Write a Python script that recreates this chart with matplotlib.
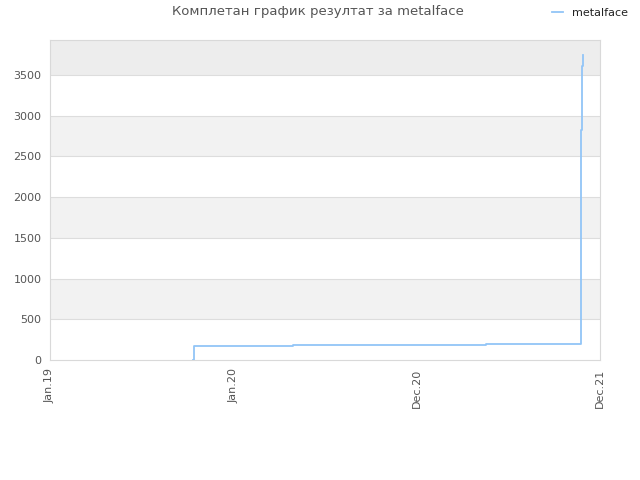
import matplotlib
matplotlib.use('Agg')
import matplotlib.pyplot as plt
import datetime as dt

# data (cumulative score over time)
dates = ['2019-10-24', '2019-10-25', '2019-10-26', '2020-04-30', '2021-05-01',
         '2021-10-27', '2021-10-28', '2021-10-29', '2021-10-30', '2021-10-31', '2021-11-01']
scores = [0, 100, 176, 188, 199, 199, 2829, 2829, 3607, 3607, 3750]

tick_labels = ['Jan.19', 'Jan.20', 'Dec.20', 'Dec.21']
start = dt.datetime(2019, 1, 25)
step_days = 348

x = [dt.datetime.strptime(d, '%Y-%m-%d') for d in dates]

fig = plt.figure(figsize=(6.4, 4.8), dpi=100)
ax = fig.add_axes([50 / 640, 120 / 480, 550 / 640, 320 / 480])

ymax = 3930
# alternating bands
for i, lo in enumerate(range(0, ymax, 500)):
    if i % 2 == 1:
        col = '#ededed' if lo >= 3500 else '#f2f2f2'
        ax.axhspan(lo, min(lo + 500, ymax), color=col, zorder=0, lw=0)
for v in range(500, ymax, 500):
    ax.axhline(v, color='#dddddd', lw=0.8, zorder=1)

ax.step(x, scores, where='post', color='#92c5f7', lw=1.3, zorder=3, label='metalface')

ticks = [start + dt.timedelta(days=step_days * k) for k in range(4)]
ax.set_xlim(ticks[0], ticks[-1])
ax.set_ylim(0, ymax)
ax.set_xticks(ticks)
ax.set_xticklabels(tick_labels, rotation=90)
ax.set_yticks(range(0, 3501, 500))

ax.tick_params(length=0, colors='#555555', labelsize=8, pad=6)
for s in ax.spines.values():
    s.set_color('#d9d9d9')

fig.text(318 / 640, 1 - 12 / 480, 'Комплетан график резултат за metalface',
         ha='center', va='center', fontsize=9.5, color='#555555')
leg = fig.legend(loc='center', bbox_to_anchor=(590 / 640, 1 - 13 / 480), frameon=False,
                 fontsize=8, handlelength=1.0, handletextpad=0.8)
for t in leg.get_texts():
    t.set_color('#222222')

fig.savefig('out.png', dpi=100)
